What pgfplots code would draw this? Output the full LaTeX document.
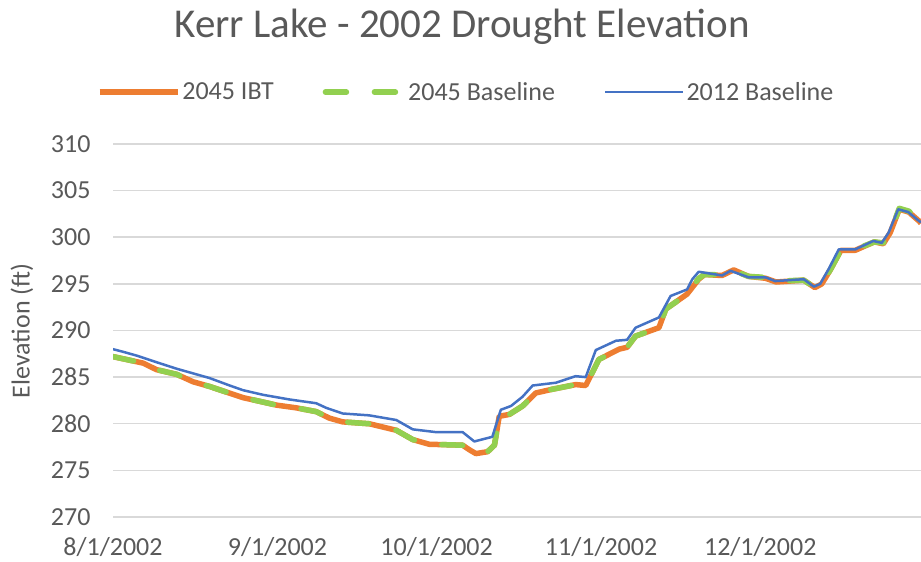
\documentclass[border=0pt]{standalone}
\usepackage{pgfplots}
\pgfplotsset{compat=1.18}
\usepackage{fontspec}
\setmainfont{Carlito}
\definecolor{txt}{HTML}{595959}
\definecolor{cor}{HTML}{ED7D31}
\definecolor{cgr}{HTML}{92D050}
\definecolor{cbl}{HTML}{4472C4}
\definecolor{grd}{HTML}{D9D9D9}
\begin{document}
\begin{tikzpicture}
\useasboundingbox (0,0) rectangle (921pt,562pt);
\begin{axis}[
  at={(113pt,45pt)}, anchor=south west,
  scale only axis, width=808pt, height=373pt,
  xmin=0, xmax=152.3, ymin=270, ymax=310,
  axis line style={draw=none},
  major tick length=0pt,
  ytick={270,275,...,310},
  xtick={0,31,61,92,122},
  xticklabels={8/1/2002,9/1/2002,10/1/2002,11/1/2002,12/1/2002},
  ymajorgrids, grid style={grd, line width=1.5pt},
  tick label style={font=\fontsize{26}{30}\selectfont, text=txt},
  /pgf/number format/assume math mode=true,
  yticklabel style={xshift=-19pt},
  xticklabel style={yshift=-17pt},
  title={Kerr Lake - 2002 Drought Elevation},
  title style={at={(0.432,1.298)}, anchor=center, font=\fontsize{41}{48}\selectfont, text=txt},
  ylabel={Elevation (ft)},
  ylabel style={at={(axis description cs:-0.1126,0.499)}, anchor=center, font=\fontsize{26}{30}\selectfont, text=txt},
  legend style={at={(0.437,1.139)}, anchor=center, draw=none, fill=none,
    font=\fontsize{26}{30}\selectfont, text=txt,
    /tikz/every even column/.append style={column sep=47pt}},
  legend columns=3,
  legend image code/.code={\draw[#1] (0pt,0pt) -- (78pt,0pt);},
]
\addplot[cor, line width=5.5pt, line join=round] coordinates {
(0,287.2) (5.7,286.5) (8.2,285.8) (12,285.3) (15.1,284.5) (18.2,284.0)
(24.5,282.8) (27.7,282.4) (30.8,282.0) (34.6,281.7) (38.3,281.3) (40.8,280.6)
(43.3,280.2) (48.3,280.0) (53.4,279.3) (56.5,278.3) (59.6,277.8) (65.9,277.7)
(67.2,277.2) (68.4,276.8) (70.6,277.0) (71.9,277.7) (72.8,280.8) (74.7,281.0)
(77.2,281.9) (79.7,283.3) (82.8,283.7) (87.2,284.2) (89.1,284.1) (91.6,286.9)
(95.4,288.0) (96.9,288.2) (98.5,289.4) (102.9,290.3) (104.2,292.3) (108.2,293.9)
(110.4,295.5) (111.5,296.0) (114.8,295.9) (117,296.5) (119.8,295.8) (123,295.6)
(125,295.2) (130.2,295.4) (132.3,294.6) (133.6,295.0) (135.3,296.6) (137.2,298.6)
(139.9,298.6) (143.5,299.5) (145.2,299.3) (146.5,300.5) (148.2,303.0) (150,302.7)
(152,301.7) (152.3,301.5)
};
\addlegendentry{2045 IBT}
\addplot[cgr, line width=5.5pt, line cap=round, line join=round, dash pattern=on 21pt off 28pt] coordinates {
(0,287.2) (5.7,286.5) (8.2,285.8) (12,285.3) (15.1,284.5) (18.2,284.0)
(24.5,282.8) (27.7,282.4) (30.8,282.0) (34.6,281.7) (38.3,281.3) (40.8,280.6)
(43.3,280.2) (48.3,280.0) (53.4,279.3) (56.5,278.3) (59.6,277.8) (65.9,277.7)
(67.2,277.2) (68.4,276.8) (70.6,277.0) (71.9,277.7) (72.8,280.8) (74.7,281.0)
(77.2,281.9) (79.7,283.3) (82.8,283.7) (87.2,284.2) (89.1,284.1) (91.6,286.9)
(95.4,288.0) (96.9,288.2) (98.5,289.4) (102.9,290.3) (104.2,292.3) (108.2,293.9)
(110.4,295.6) (111.5,296.0) (114.8,296.0) (117,296.4) (119.8,295.8) (123,295.7)
(125,295.3) (130.2,295.4) (132.3,294.6) (133.6,295.0) (135.3,296.6) (137.2,298.6)
(139.9,298.7) (143.5,299.5) (145.2,299.4) (146.5,300.5) (148.2,303.1) (150,302.8)
(152,301.8) (152.3,301.6)
};
\addlegendentry{2045 Baseline}
\addplot[cbl, line width=2.5pt, line join=round] coordinates {
(0,288.0) (2,287.7) (4.5,287.3) (8.2,286.6) (12,285.9) (15.1,285.4) (18.2,284.9)
(22,284.1) (24.5,283.6) (28.3,283.1) (33.3,282.6) (38.3,282.2) (40.2,281.7)
(43.3,281.1) (48.3,280.9) (53.4,280.4) (56.5,279.4) (60.9,279.1) (65.9,279.1)
(68.1,278.1) (71.5,278.6) (73.1,281.5) (75.0,281.9) (77.2,282.9) (79.1,284.1)
(83.5,284.4) (87.2,285.1) (89.1,285.0) (91.0,287.9) (94.8,288.9) (96.9,289.0)
(98.5,290.3) (102.9,291.4) (105.1,293.7) (108.2,294.4) (109.2,295.5) (110.4,296.3)
(114.8,295.9) (116.4,296.4) (119.8,295.7) (123.0,295.7) (124.8,295.3) (130.2,295.5)
(132.1,294.7) (133.3,295.0) (134.9,296.6) (136.8,298.7) (139.9,298.7) (143.3,299.6)
(144.9,299.4) (146.2,300.5) (148.0,303.0) (149.9,302.7) (151.8,301.8) (152.3,301.6)
};
\addlegendentry{2012 Baseline}
\end{axis}
\end{tikzpicture}
\end{document}
